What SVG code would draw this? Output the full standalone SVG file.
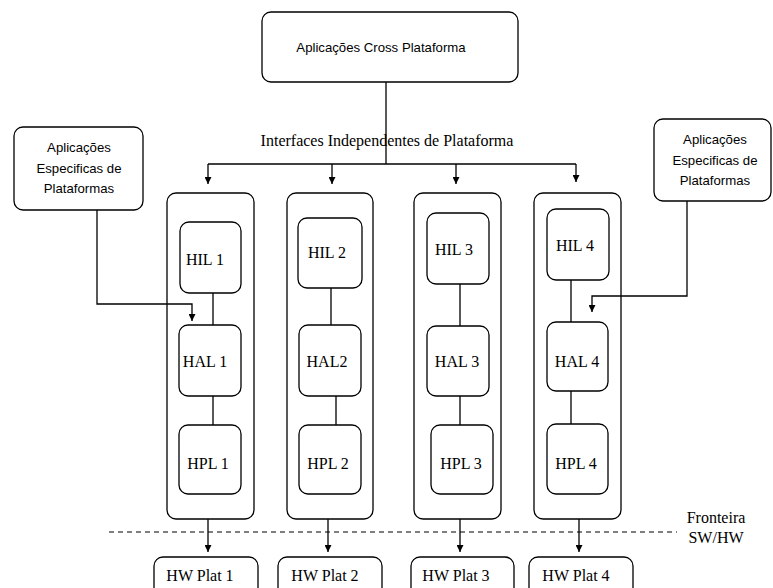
<svg xmlns="http://www.w3.org/2000/svg" width="773" height="588" viewBox="0 0 773 588">
  <style>
    .box { fill: #fff; stroke: #000; stroke-width: 1.3; }
    .ln { fill: none; stroke: #000; stroke-width: 1.3; }
    .dash { fill: none; stroke: #000; stroke-width: 1.2; stroke-dasharray: 5 4; }
    .sans { font-family: "Liberation Sans", Arial, sans-serif; font-size: 13.2px; text-anchor: middle; fill: #000; }
    .serif { font-family: "Liberation Serif", "Times New Roman", serif; font-size: 16px; text-anchor: middle; fill: #000; }
  </style>
  <defs>
    <marker id="arrow" viewBox="0 0 10 10" refX="10" refY="5" markerWidth="10" markerHeight="7" markerUnits="userSpaceOnUse" orient="auto">
      <path d="M0,0 L10,5 L0,10 z" fill="#000"/>
    </marker>
  </defs>

  <!-- platform columns (outer containers) -->
  <g id="col1"><rect class="box" x="167" y="193" width="87" height="326" rx="9"/></g>
  <g id="col2"><rect class="box" x="287" y="193" width="86" height="326" rx="9"/></g>
  <g id="col3"><rect class="box" x="414" y="193" width="87" height="326" rx="9"/></g>
  <g id="col4"><rect class="box" x="534" y="193" width="87" height="326" rx="9"/></g>

  <!-- connectors -->
  <g id="connectors">
    <!-- cross platform apps fan-out -->
    <path class="ln" d="M386,82 V164"/>
    <path class="ln" d="M208,164 H576"/>
    <path class="ln" d="M208,164 V184" marker-end="url(#arrow)"/>
    <path class="ln" d="M332,164 V184" marker-end="url(#arrow)"/>
    <path class="ln" d="M456,164 V184" marker-end="url(#arrow)"/>
    <path class="ln" d="M576,164 V182" marker-end="url(#arrow)"/>
    <!-- platform specific apps -->
    <path class="ln" d="M97,210 V304 H192 V321" marker-end="url(#arrow)"/>
    <path class="ln" d="M687,201 V296 H592 V312" marker-end="url(#arrow)"/>
    <!-- layer links -->
    <path class="ln" d="M213,293 V325 M213,396 V425"/>
    <path class="ln" d="M331,288 V325 M336,396 V425"/>
    <path class="ln" d="M460,284 V326 M460,396 V425"/>
    <path class="ln" d="M571,280 V322 M571,391 V424"/>
    <!-- to hardware -->
    <path class="ln" d="M208,519 V552" marker-end="url(#arrow)"/>
    <path class="ln" d="M328,519 V552" marker-end="url(#arrow)"/>
    <path class="ln" d="M460,519 V552" marker-end="url(#arrow)"/>
    <path class="ln" d="M579,519 V552" marker-end="url(#arrow)"/>
    <!-- SW/HW boundary -->
    <path class="dash" d="M109,532 H677"/>
  </g>

  <!-- top application box -->
  <g id="cross-apps">
    <rect class="box" x="262" y="12" width="256" height="70" rx="9"/>
    <text class="sans" x="381" y="52">Aplicações Cross Plataforma</text>
  </g>
  <text class="serif" x="387" y="146">Interfaces Independentes de Plataforma</text>

  <g id="specific-apps-left">
    <rect class="box" x="14" y="127" width="129" height="83" rx="9"/>
    <text class="sans" x="79" y="152">Aplicações</text>
    <text class="sans" x="79" y="173">Especificas de</text>
    <text class="sans" x="79" y="193">Plataformas</text>
  </g>
  <g id="specific-apps-right">
    <rect class="box" x="654" y="119" width="117" height="82" rx="9"/>
    <text class="sans" x="715" y="144">Aplicações</text>
    <text class="sans" x="715" y="165">Especificas de</text>
    <text class="sans" x="715" y="185">Plataformas</text>
  </g>

  <!-- layer boxes -->
  <g id="hil1"><rect class="box" x="180" y="222" width="61" height="71" rx="9"/><text class="serif" x="205" y="265">HIL 1</text></g>
  <g id="hal1"><rect class="box" x="179" y="325" width="62" height="71" rx="9"/><text class="serif" x="205" y="367">HAL 1</text></g>
  <g id="hpl1"><rect class="box" x="179" y="425" width="62" height="69" rx="9"/><text class="serif" x="208" y="469">HPL 1</text></g>

  <g id="hil2"><rect class="box" x="298" y="218" width="64" height="70" rx="9"/><text class="serif" x="327" y="258">HIL 2</text></g>
  <g id="hal2"><rect class="box" x="299" y="325" width="62" height="71" rx="9"/><text class="serif" x="327" y="367">HAL2</text></g>
  <g id="hpl2"><rect class="box" x="299" y="425" width="62" height="69" rx="9"/><text class="serif" x="328" y="469">HPL 2</text></g>

  <g id="hil3"><rect class="box" x="427" y="213" width="62" height="71" rx="9"/><text class="serif" x="454" y="255">HIL 3</text></g>
  <g id="hal3"><rect class="box" x="427" y="326" width="62" height="70" rx="9"/><text class="serif" x="457" y="367">HAL 3</text></g>
  <g id="hpl3"><rect class="box" x="431" y="425" width="62" height="69" rx="9"/><text class="serif" x="461" y="469">HPL 3</text></g>

  <g id="hil4"><rect class="box" x="547" y="209" width="62" height="71" rx="9"/><text class="serif" x="575" y="251">HIL 4</text></g>
  <g id="hal4"><rect class="box" x="547" y="322" width="61" height="69" rx="9"/><text class="serif" x="577" y="367">HAL 4</text></g>
  <g id="hpl4"><rect class="box" x="547" y="424" width="61" height="70" rx="9"/><text class="serif" x="576" y="469">HPL 4</text></g>

  <!-- hardware platforms -->
  <g id="hw1"><rect class="box" x="154" y="557" width="104" height="40" rx="9"/><text class="serif" x="200" y="581">HW Plat 1</text></g>
  <g id="hw2"><rect class="box" x="278" y="557" width="104" height="40" rx="9"/><text class="serif" x="325" y="581">HW Plat 2</text></g>
  <g id="hw3"><rect class="box" x="411" y="557" width="103" height="40" rx="9"/><text class="serif" x="456" y="581">HW Plat 3</text></g>
  <g id="hw4"><rect class="box" x="529" y="557" width="104" height="40" rx="9"/><text class="serif" x="576" y="581">HW Plat 4</text></g>

  <g id="boundary-label">
    <text class="serif" x="716" y="523">Fronteira</text>
    <text class="serif" x="716" y="543">SW/HW</text>
  </g>
</svg>
